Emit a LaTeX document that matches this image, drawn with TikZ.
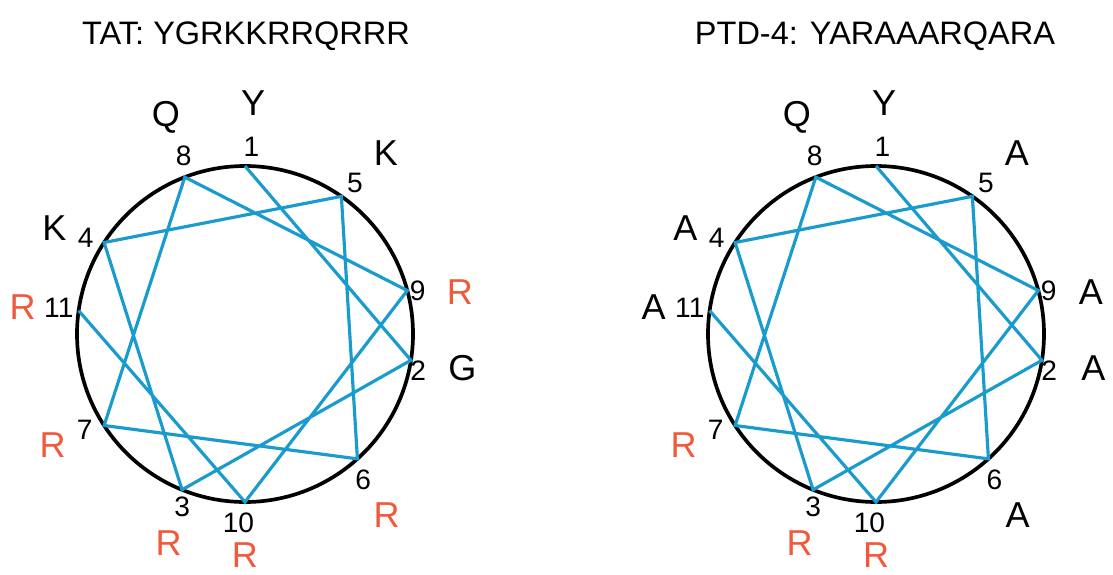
\documentclass[tikz,border=0pt]{standalone}
\usepackage{fontspec}
\setmainfont{Liberation Sans}
\definecolor{helixblue}{RGB}{25,155,205}
\definecolor{argred}{RGB}{240,90,60}

\begin{document}
\begin{tikzpicture}[
    num/.style={inner sep=0pt, font=\fontsize{16}{18}\selectfont},
    res/.style={inner sep=0pt, font=\fontsize{20.5}{24}\selectfont},
    arg/.style={res, text=argred},
    title/.style={anchor=base, inner sep=0pt, font=\fontsize{18.5}{22}\selectfont},
    helix/.style={draw=helixblue, line width=1.8pt},
    wheel/.style={draw=black, line width=2.1pt}]
    \useasboundingbox (0,0) rectangle (22.26,11.48);

    \path 
    (4.92,10.58) node[title] (tat) {TAT: YGRKKRRQRRR}
    (17.5,10.58) node[title] (ptd) {PTD-4: YARAAARQARA};

    \coordinate (tatc) at (4.9,4.8);
    \coordinate (ptdc) at (17.52,4.8);

    \draw[wheel] (tatc) circle (3.36);
    \draw[wheel] (ptdc) circle (3.36);

    % residue i sits about 100 degrees on from residue i-1
    \foreach \i/\a/\na/\nr/\la/\lr/\s/\t/\u/\v in {
        1/90/88/3.74/88/4.62/res/Y/res/Y,
        2/-9/-12/3.54/-9/4.4/res/G/res/A,
        3/-112/-110/3.68/-110/4.46/arg/R/arg/R,
        4/147/149/3.72/151/4.36/res/K/res/A,
        5/55/54/3.74/52/4.58/res/K/res/A,
        6/-48/-51/3.76/-52/4.6/arg/R/res/A,
        7/-147/-149/3.74/-150/4.44/arg/R/arg/R,
        8/111/109/3.76/110/4.62/res/Q/res/Q,
        9/15/14/3.56/11/4.38/arg/R/res/A,
        10/-90/-92/3.78/-90/4.42/arg/R/arg/R,
        11/172/172/3.76/173/4.48/arg/R/res/A} {
      \path (tatc) 
      +(\a:3.36) coordinate (t\i) 
      +(\na:\nr) node[num] (tn\i) {\i} 
      +(\la:\lr) node[\s] (tr\i) {\t};
      \path (ptdc) 
      +(\a:3.36) coordinate (p\i) 
      +(\na:\nr) node[num] (pn\i) {\i} 
      +(\la:\lr) node[\u] (pr\i) {\v};
    }

    \draw[helix] (t1) -- (t2) -- (t3) -- (t4) -- (t5) -- (t6) -- (t7) -- (t8) -- (t9) -- (t10) -- (t11);
    \draw[helix] (p1) -- (p2) -- (p3) -- (p4) -- (p5) -- (p6) -- (p7) -- (p8) -- (p9) -- (p10) -- (p11);
\end{tikzpicture}
\end{document}
